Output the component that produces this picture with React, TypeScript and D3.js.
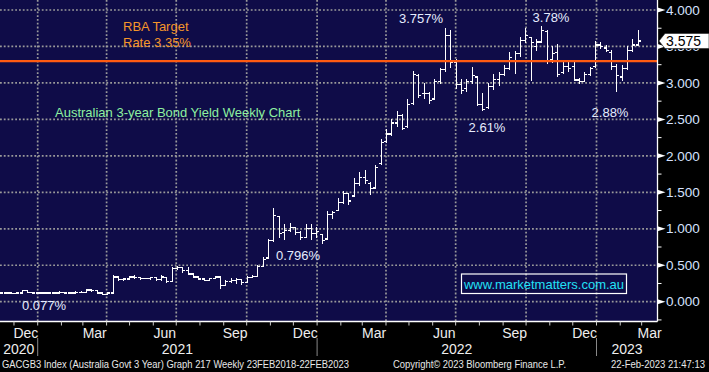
import React from "react";
import * as d3 from "d3";

// chart box
const W = 709;
const H = 372;
const plotRight = 657.5;
const plotBottom = 321.5;

// weekly bars, first week ending Fri 13 Nov 2020
const firstWeek = new Date(2020, 10, 13);

const opens = [
  0.12, 0.12, 0.12, 0.11, 0.12, 0.15, 0.13, 0.12, 0.12, 0.12,
  0.12, 0.12, 0.13, 0.12, 0.12, 0.13, 0.13, 0.16, 0.15, 0.12,
  0.10, 0.12, 0.34, 0.30, 0.31, 0.34, 0.33, 0.32, 0.32, 0.33,
  0.30, 0.33, 0.28, 0.45, 0.47, 0.43, 0.38, 0.34, 0.31, 0.29,
  0.32, 0.34, 0.22, 0.28, 0.29, 0.30, 0.26, 0.33, 0.35, 0.48,
  0.60, 0.84, 1.17, 0.95, 0.98, 1.02, 0.95, 0.88, 1.00, 0.93,
  0.92, 0.86, 1.20, 1.25, 1.36, 1.48, 1.45, 1.62, 1.70, 1.62,
  1.56, 1.90, 2.20, 2.30, 2.45, 2.55, 2.40, 2.72, 3.10, 2.85,
  2.85, 2.78, 3.02, 3.18, 3.65, 3.28, 2.98, 2.92, 3.02, 3.08,
  2.70, 2.66, 2.95, 3.05, 3.12, 3.20, 3.30, 3.40, 3.58, 3.62,
  3.50, 3.56, 3.70, 3.32, 3.42, 3.14, 3.22, 3.22, 3.04, 3.02,
  3.12, 3.22, 3.52, 3.48, 3.42, 3.22, 3.08, 3.20, 3.45, 3.52,
];
const highs = [
  0.13, 0.13, 0.12, 0.13, 0.16, 0.16, 0.13, 0.13, 0.13, 0.13,
  0.13, 0.14, 0.13, 0.13, 0.14, 0.14, 0.18, 0.17, 0.16, 0.13,
  0.13, 0.36, 0.35, 0.33, 0.35, 0.36, 0.34, 0.33, 0.34, 0.34,
  0.36, 0.34, 0.47, 0.49, 0.48, 0.47, 0.39, 0.35, 0.32, 0.33,
  0.35, 0.34, 0.30, 0.32, 0.33, 0.31, 0.35, 0.37, 0.50, 0.61,
  0.86, 1.29, 1.18, 1.06, 1.08, 1.03, 0.97, 1.06, 1.06, 1.02,
  0.93, 1.24, 1.24, 1.42, 1.52, 1.49, 1.70, 1.78, 1.80, 1.64,
  1.88, 2.23, 2.37, 2.50, 2.62, 2.58, 2.78, 3.17, 3.12, 3.00,
  2.88, 3.05, 3.20, 3.757, 3.72, 3.33, 3.05, 3.06, 3.22, 3.10,
  2.86, 3.00, 3.12, 3.15, 3.25, 3.42, 3.44, 3.63, 3.76, 3.63,
  3.60, 3.78, 3.72, 3.51, 3.54, 3.31, 3.30, 3.31, 3.07, 3.15,
  3.22, 3.58, 3.56, 3.52, 3.45, 3.26, 3.24, 3.50, 3.60, 3.72,
];
const lows = [
  0.11, 0.11, 0.10, 0.10, 0.12, 0.12, 0.11, 0.11, 0.11, 0.10,
  0.11, 0.11, 0.11, 0.11, 0.11, 0.12, 0.12, 0.13, 0.11, 0.09,
  0.09, 0.11, 0.28, 0.29, 0.30, 0.31, 0.30, 0.31, 0.30, 0.29,
  0.29, 0.25, 0.27, 0.44, 0.40, 0.37, 0.33, 0.30, 0.28, 0.28,
  0.31, 0.18, 0.21, 0.25, 0.24, 0.23, 0.25, 0.32, 0.34, 0.47,
  0.59, 0.82, 0.88, 0.85, 0.95, 0.92, 0.85, 0.87, 0.85, 0.87,
  0.796, 0.85, 1.14, 1.24, 1.34, 1.33, 1.45, 1.58, 1.62, 1.47,
  1.56, 1.88, 2.18, 2.27, 2.40, 2.36, 2.38, 2.70, 2.80, 2.78,
  2.71, 2.76, 2.98, 3.15, 3.20, 2.92, 2.85, 2.88, 2.98, 2.68,
  2.61, 2.64, 2.90, 2.96, 3.10, 3.18, 3.12, 3.35, 3.55, 3.03,
  3.44, 3.55, 3.26, 3.27, 3.08, 3.12, 3.15, 3.02, 2.99, 3.01,
  3.10, 3.20, 3.46, 3.42, 3.18, 2.88, 3.02, 3.18, 3.42, 3.50,
];
const closes = [
  0.12, 0.12, 0.11, 0.12, 0.15, 0.13, 0.12, 0.12, 0.12, 0.12,
  0.12, 0.13, 0.12, 0.12, 0.13, 0.13, 0.16, 0.15, 0.12, 0.10,
  0.12, 0.34, 0.30, 0.31, 0.34, 0.33, 0.32, 0.32, 0.33, 0.30,
  0.34, 0.28, 0.45, 0.47, 0.43, 0.38, 0.34, 0.31, 0.29, 0.32,
  0.34, 0.22, 0.28, 0.29, 0.30, 0.26, 0.33, 0.35, 0.48, 0.58,
  0.84, 1.18, 0.93, 0.98, 1.02, 0.95, 0.88, 1.00, 0.93, 0.96,
  0.84, 1.20, 1.22, 1.36, 1.48, 1.38, 1.62, 1.70, 1.66, 1.55,
  1.84, 2.18, 2.30, 2.45, 2.55, 2.38, 2.70, 3.12, 2.83, 2.86,
  2.76, 3.02, 3.18, 3.65, 3.28, 2.98, 2.90, 3.02, 3.10, 2.70,
  2.64, 2.95, 3.05, 3.12, 3.20, 3.35, 3.40, 3.58, 3.65, 3.55,
  3.56, 3.72, 3.30, 3.40, 3.12, 3.22, 3.20, 3.04, 3.02, 3.12,
  3.20, 3.52, 3.50, 3.45, 3.22, 3.10, 3.20, 3.45, 3.52, 3.575,
];

const yMajor = [0, 0.5, 1, 1.5, 2, 2.5, 3, 3.5, 4];
const yMinor = [-0.25, 0.25, 0.75, 1.25, 1.75, 2.25, 2.75, 3.25, 3.75];
const quarterLabels = ["Dec", "Mar", "Jun", "Sep"];
const rbaLevel = 3.3;
const lastValue = 3.575;

const peakLabels = [
  { text: "3.757%", x: 421, y: 23 },
  { text: "3.78%", x: 551, y: 22 },
  { text: "2.61%", x: 487, y: 132 },
  { text: "2.88%", x: 610, y: 117 },
  { text: "0.796%", x: 298, y: 260 },
  { text: "0.077%", x: 44, y: 310 },
];

const FONT = "'Liberation Sans', Arial, sans-serif";
const NAVY = "#0f0c48";
const GRID = "#9a9a9a";

const x = d3
  .scaleTime()
  .domain([new Date(2021, 0, 1), new Date(2023, 0, 1)])
  .range([37.7, 596.5]);
const y = d3.scaleLinear().domain([0, 4]).range([301.7, 10]);

const xMin = x.invert(0);
const xMax = x.invert(plotRight);

export default function App() {
  const weeks = closes.map((_, i) => d3.timeDay.offset(firstWeek, i * 7));
  const months = d3.timeMonth.range(d3.timeMonth.ceil(xMin), xMax);
  const quarters = months.filter((m) => m.getMonth() % 3 === 0);
  const labelMonths = d3.timeMonth
    .range(d3.timeMonth.floor(xMin), xMax)
    .filter((m) => m.getMonth() % 3 === 2);
  const years = d3.timeYear.range(d3.timeYear.floor(xMin), xMax);
  const newYears = years.filter((d) => d > xMin);

  const tagY = y(lastValue);

  return (
    <div style={{ width: W, height: H, background: "#000" }}>
      <style>{"body{margin:0;background:#000}"}</style>
      <svg width={W} height={H} style={{ display: "block", fontFamily: FONT }}>
        <rect x={0} y={0} width={W} height={H} fill="#000" />
        <rect x={0} y={0} width={plotRight} height={plotBottom} fill={NAVY} />

        {/* grid */}
        <g stroke={GRID} strokeWidth={1.7} strokeDasharray="1.8,2">
          {yMajor.map((v) => (
            <line key={v} x1={0} x2={plotRight} y1={y(v)} y2={y(v)} />
          ))}
          {quarters.map((d) => (
            <line key={+d} x1={x(d)} x2={x(d)} y1={0} y2={plotBottom} />
          ))}
        </g>

        {/* weekly OHLC bars */}
        <g stroke="#fff" strokeWidth={1.2} shapeRendering="crispEdges">
          {weeks.map((d, i) => {
            const cx = Math.round(x(d)) + 0.5;
            return (
              <g key={i}>
                <line x1={cx} x2={cx} y1={y(highs[i])} y2={y(lows[i])} />
                <line x1={cx - 2.5} x2={cx} y1={y(opens[i])} y2={y(opens[i])} />
                <line x1={cx} x2={cx + 2.5} y1={y(closes[i])} y2={y(closes[i])} />
              </g>
            );
          })}
        </g>

        {/* RBA line */}
        <line x1={0} x2={plotRight} y1={y(rbaLevel)} y2={y(rbaLevel)} stroke="#ff5b12" strokeWidth={2.2} />
        <g fill="#f5962a" fontSize={13}>
          <text x={123} y={31}>RBA Target</text>
          <text x={123} y={47}>Rate 3.35%</text>
        </g>
        <text x={55} y={116.5} fill="#8ef0a0" fontSize={13}>
          Australian 3-year Bond Yield Weekly Chart
        </text>

        {peakLabels.map((p) => (
          <text key={p.text} x={p.x} y={p.y} fill="#e6ecff" fontSize={13} textAnchor="middle">
            {p.text}
          </text>
        ))}

        {/* watermark */}
        <rect x={461.5} y={274} width={165} height={19.5} fill="none" stroke="#fff" strokeWidth={1.2} />
        <text x={544} y={288.5} fill="#22e0f5" fontSize={13} textAnchor="middle" textLength={160}>
          www.marketmatters.com.au
        </text>

        {/* right axis */}
        <line x1={plotRight} x2={plotRight} y1={0} y2={plotBottom} stroke="#fff" strokeWidth={1.3} />
        <line x1={0} x2={plotRight} y1={plotBottom} y2={plotBottom} stroke="#fff" strokeWidth={1.3} />
        {yMinor.map((v) => (
          <line key={v} x1={plotRight} x2={plotRight + 4} y1={y(v)} y2={y(v)} stroke="#fff" strokeWidth={1} />
        ))}
        {yMajor.map((v) => (
          <g key={v}>
            <path
              d={`M${plotRight},${y(v) - 2.5}L${plotRight + 8},${y(v)}L${plotRight},${y(v) + 2.5}Z`}
              fill="#fff"
            />
            <text x={666} y={y(v) + 4.7} fill="#d6e2ff" fontSize={13.5}>
              {d3.format(".3f")(v)}
            </text>
          </g>
        ))}

        {/* last value tag */}
        <path
          d={`M659,${tagY}L665,${tagY - 7.5}H709V${tagY + 7.5}H665Z`}
          fill="#fff"
          stroke="#222"
          strokeWidth={0.6}
        />
        <text x={666} y={tagY + 5} fill="#000" fontSize={14}>
          {d3.format(".3f")(lastValue)}
        </text>

        {/* bottom axis */}
        {months.map((d) => (
          <line key={+d} x1={x(d)} x2={x(d)} y1={plotBottom} y2={plotBottom + 4} stroke="#ccc" strokeWidth={1} />
        ))}
        {labelMonths.map((d) => {
          const end = d3.timeMonth.offset(d, 1);
          const cx = (x(d) + x(end < xMax ? end : xMax)) / 2;
          return (
            <text key={+d} x={cx} y={338} fill="#eee" fontSize={14} textAnchor="middle">
              {quarterLabels[(d.getMonth() + 1) % 12 / 3]}
            </text>
          );
        })}
        {years.map((d) => {
          const start = d < xMin ? xMin : d;
          const end = d3.timeYear.offset(d, 1);
          const cx = (x(start) + x(end < xMax ? end : xMax)) / 2;
          return (
            <text key={+d} x={cx} y={353.5} fill="#eee" fontSize={14} textAnchor="middle">
              {d.getFullYear()}
            </text>
          );
        })}
        {newYears.map((d) => (
          <line key={+d} x1={x(d)} x2={x(d)} y1={338} y2={356} stroke="#888" strokeWidth={1} />
        ))}

        {/* footer */}
        <g fill="#e8e8e8" fontSize={10}>
          <text x={2} y={368} textLength={347} lengthAdjust="spacingAndGlyphs">
            GACGB3 Index (Australia Govt 3 Year) Graph 217  Weekly 23FEB2018-22FEB2023
          </text>
          <text x={393} y={368} textLength={173} lengthAdjust="spacingAndGlyphs">
            Copyright© 2023 Bloomberg Finance L.P.
          </text>
          <text x={611} y={368} textLength={94} lengthAdjust="spacingAndGlyphs">
            22-Feb-2023 21:47:13
          </text>
        </g>
      </svg>
    </div>
  );
}
